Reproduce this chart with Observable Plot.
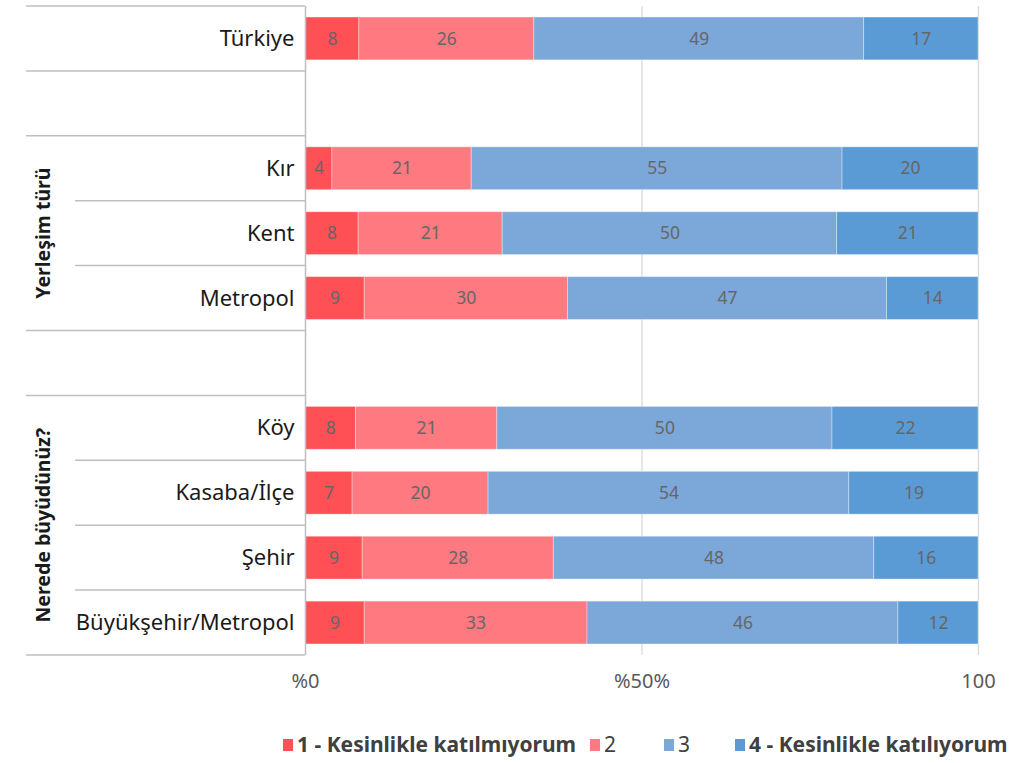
<!DOCTYPE html>
<html>
<head>
<meta charset="utf-8">
<script src="https://cdn.jsdelivr.net/npm/d3@7"></script>
<script src="https://cdn.jsdelivr.net/npm/@observablehq/plot@0.6"></script>
<style>
  html, body { margin: 0; padding: 0; background: #fff; }
  body { width: 1032px; height: 763px; overflow: hidden; font-family: "Noto Sans", sans-serif; }
  #chart svg { display: block; }
  #legend { position: relative; height: 51px; font-size: 21px; color: #404040; }
  #legend .item { position: absolute; top: 22px; display: flex; align-items: center; white-space: nowrap; line-height: 1; }
  #legend .sw { width: 10px; height: 12px; margin-right: 4px; }
</style>
</head>
<body>
<div id="chart"></div>
<div id="legend"></div>
<script>
// ---- data ----
const rows = ["Türkiye", " ", "Kır", "Kent", "Metropol", "  ", "Köy", "Kasaba/İlçe", "Şehir", "Büyükşehir/Metropol"];
const categories = ["Türkiye", "Kır", "Kent", "Metropol", "Köy", "Kasaba/İlçe", "Şehir", "Büyükşehir/Metropol"];
const series = ["1 - Kesinlikle katılmıyorum", "2", "3", "4 - Kesinlikle katılıyorum"];
const s1 = [8.0, 4.0, 7.9, 8.8, 7.5, 7.0, 8.5, 8.8];
const s2 = [26.0, 20.7, 21.4, 30.2, 21.0, 20.2, 28.4, 33.1];
const s3 = [49.0, 55.1, 49.7, 47.4, 49.8, 53.6, 47.6, 46.2];
const s4 = [17.0, 20.2, 21.0, 13.6, 21.7, 19.2, 15.5, 11.9];
const colors = ["#FF5056", "#FF7981", "#7CA7D9", "#5B9BD5"];
const xTicks = [0, 50, 100];
const xTickLabels = ["%0", "%50%", "100"];
const groupNames = ["Yerleşim türü", "Nerede büyüdünüz?"];
const groupRows = [["Kır", "Kent", "Metropol"], ["Köy", "Kasaba/İlçe", "Şehir", "Büyükşehir/Metropol"]];
const legendBold = [true, false, false, true];

// ---- table ----
const seriesValues = [s1, s2, s3, s4];
const data = [];
categories.forEach((c, i) => series.forEach((s, j) => data.push({row: c, series: s, value: seriesValues[j][i]})));

const plot = Plot.plot({
  width: 1032,
  height: 712,
  marginTop: 6,
  marginBottom: 57,
  marginLeft: 305,
  marginRight: 54,
  style: {fontFamily: "Noto Sans, sans-serif", fontSize: "18px", color: "#1a1a1a", background: "#fff"},
  x: {domain: [0, 100], axis: null, label: null},
  y: {domain: rows, paddingInner: 0.34, paddingOuter: 0.17, round: false, axis: null, label: null},
  color: {domain: series, range: colors},
  marks: [
    Plot.ruleX([50, 100], {stroke: "#d9d9d9", strokeWidth: 1.3}),
    Plot.barX(data, Plot.stackX({x: "value", y: "row", fill: "series", order: series, stroke: "#fff", strokeOpacity: 0.35, strokeWidth: 1})),
    Plot.text(data, Plot.stackX({x: "value", y: "row", z: "series", order: series, text: d => Math.round(d.value), fill: "#666", fontSize: 17.5, fontFamily: "Noto Sans, sans-serif"})),
    Plot.ruleX([0], {stroke: "#bfbfbf", strokeWidth: 1.5}),
    Plot.axisY({tickSize: 0, tickPadding: 11, tickFormat: d => d.trim(), fontSize: 22, fill: "#1a1a1a", label: null}),
    Plot.axisX({ticks: xTicks, tickFormat: (d, i) => xTickLabels[i], tickSize: 0, tickPadding: 18, fontSize: 20, fill: "#595959", label: null})
  ]
});
document.getElementById("chart").appendChild(plot);

// table lines and group labels from the y band scale
const ys = plot.scale("y");
const gap = (ys.step - ys.bandwidth) / 2;
const topOf = r => ys.apply(r) - gap;
const botOf = r => ys.apply(r) + ys.bandwidth + gap;
const svg = d3.select(plot);
const lines = [
  {y: topOf("Türkiye"), x1: 26}, {y: botOf("Türkiye"), x1: 26},
  {y: topOf("Kır"), x1: 26}, {y: topOf("Kent"), x1: 75}, {y: topOf("Metropol"), x1: 75}, {y: botOf("Metropol"), x1: 26},
  {y: topOf("Köy"), x1: 26}, {y: topOf("Kasaba/İlçe"), x1: 75}, {y: topOf("Şehir"), x1: 75}, {y: topOf("Büyükşehir/Metropol"), x1: 75},
  {y: botOf("Büyükşehir/Metropol"), x1: 26}
];
svg.append("g").selectAll("line").data(lines).join("line")
  .attr("x1", d => d.x1).attr("x2", 305)
  .attr("y1", d => d.y).attr("y2", d => d.y)
  .attr("stroke", "#bfbfbf").attr("stroke-width", 1.5);
groupNames.forEach((g, i) => {
  const rs = groupRows[i];
  const cy = (topOf(rs[0]) + botOf(rs[rs.length - 1])) / 2;
  svg.append("text")
    .attr("transform", `translate(42,${cy}) rotate(-90)`)
    .attr("text-anchor", "middle").attr("dominant-baseline", "central")
    .attr("font-weight", "bold").attr("font-size", 19.5).attr("fill", "#1a1a1a")
    .text(g);
});

// legend
const legendX = [283, 590, 664, 735];
const leg = d3.select("#legend");
series.forEach((s, i) => {
  const it = leg.append("div").attr("class", "item").style("left", legendX[i] + "px");
  it.append("div").attr("class", "sw").style("background", colors[i]);
  it.append("span").style("font-weight", legendBold[i] ? "bold" : "normal").text(s);
});
</script>
</body>
</html>
